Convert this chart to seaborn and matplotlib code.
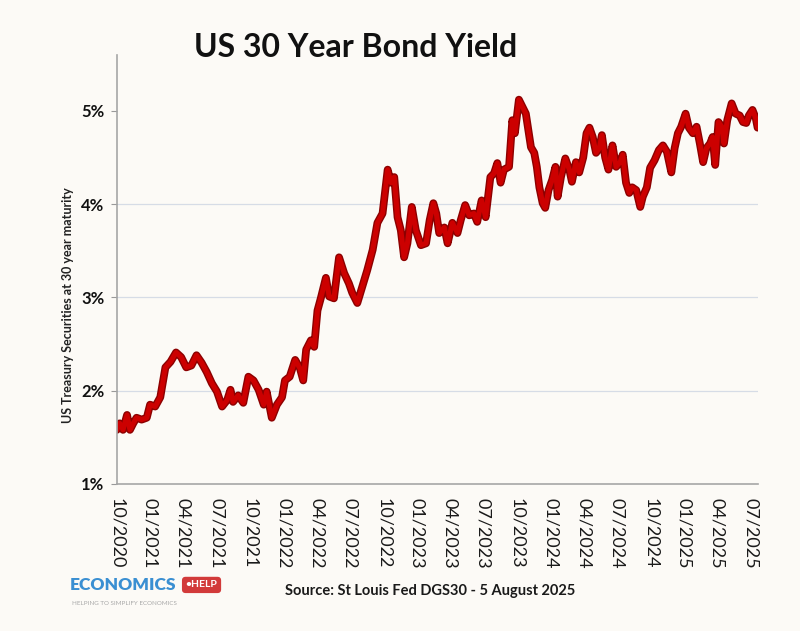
import pandas as pd
import matplotlib.pyplot as plt
import seaborn as sns

# Rendimento do Treasury de 30 anos
datas = [
    "2020-10-13", "2020-10-21", "2020-10-30", "2020-11-10", "2020-11-18", "2020-11-27",
    "2020-12-06", "2020-12-20", "2021-01-03", "2021-01-12", "2021-01-26", "2021-02-09",
    "2021-02-23", "2021-03-09", "2021-03-24", "2021-04-07", "2021-04-21", "2021-05-05",
    "2021-05-19", "2021-06-02", "2021-06-16", "2021-06-30", "2021-07-14", "2021-07-28",
    "2021-08-11", "2021-08-20", "2021-08-27", "2021-09-10", "2021-09-24", "2021-10-08",
    "2021-10-22", "2021-11-05", "2021-11-19", "2021-11-27", "2021-12-11", "2021-12-25",
    "2022-01-08", "2022-01-16", "2022-01-29", "2022-02-13", "2022-02-26", "2022-03-07",
    "2022-03-15", "2022-03-28", "2022-04-06", "2022-04-15", "2022-04-24", "2022-05-08",
    "2022-05-17", "2022-05-30", "2022-06-13", "2022-06-27", "2022-07-10", "2022-07-19",
    "2022-08-02", "2022-08-15", "2022-08-29", "2022-09-13", "2022-09-26", "2022-10-10",
    "2022-10-24", "2022-11-02", "2022-11-11", "2022-11-20", "2022-11-29", "2022-12-08",
    "2022-12-17", "2022-12-29", "2023-01-09", "2023-01-23", "2023-02-06", "2023-02-16",
    "2023-02-26", "2023-03-06", "2023-03-14", "2023-03-28", "2023-04-06", "2023-04-19",
    "2023-05-03", "2023-05-12", "2023-05-24", "2023-06-04", "2023-06-17", "2023-06-26",
    "2023-07-08", "2023-07-19", "2023-08-01", "2023-08-11", "2023-08-20", "2023-08-29",
    "2023-09-07", "2023-09-21", "2023-09-30", "2023-10-07", "2023-10-18", "2023-10-28",
    "2023-11-06", "2023-11-14", "2023-11-20", "2023-11-29", "2023-12-06", "2023-12-13",
    "2023-12-22", "2023-12-29", "2024-01-07", "2024-01-17", "2024-01-26", "2024-02-01",
    "2024-02-10", "2024-02-22", "2024-03-04", "2024-03-11", "2024-03-22", "2024-03-31",
    "2024-04-11", "2024-04-20", "2024-04-28", "2024-05-07", "2024-05-16", "2024-05-25",
    "2024-06-01", "2024-06-10", "2024-06-19", "2024-06-30", "2024-07-10", "2024-07-21",
    "2024-07-28", "2024-08-06", "2024-08-15", "2024-08-23", "2024-09-03", "2024-09-14",
    "2024-09-21", "2024-10-02", "2024-10-11", "2024-10-23", "2024-11-04", "2024-11-15",
    "2024-11-26", "2024-12-08", "2024-12-17", "2024-12-26", "2025-01-04", "2025-01-16",
    "2025-01-25", "2025-02-05", "2025-02-15", "2025-02-24", "2025-03-05", "2025-03-14",
    "2025-03-24", "2025-03-31", "2025-04-07", "2025-04-16", "2025-04-25", "2025-05-01",
    "2025-05-10", "2025-05-22", "2025-06-02", "2025-06-13", "2025-06-22", "2025-07-01",
    "2025-07-08", "2025-07-18", "2025-07-27", "2025-08-01",
]
rendimentos = [
    1.58, 1.65, 1.58, 1.74, 1.58, 1.65,
    1.71, 1.69, 1.71, 1.85, 1.83, 1.93,
    2.25, 2.31, 2.41, 2.36, 2.25, 2.27,
    2.38, 2.30, 2.20, 2.08, 1.99, 1.83,
    1.90, 2.01, 1.88, 1.95, 1.87, 2.15,
    2.11, 2.01, 1.85, 1.99, 1.71, 1.85,
    1.93, 2.11, 2.15, 2.33, 2.24, 2.11,
    2.44, 2.54, 2.47, 2.86, 2.99, 3.21,
    3.01, 2.99, 3.43, 3.26, 3.15, 3.05,
    2.94, 3.11, 3.29, 3.51, 3.80, 3.90,
    4.37, 4.23, 4.29, 3.86, 3.72, 3.43,
    3.58, 3.97, 3.72, 3.56, 3.58, 3.83,
    4.01, 3.90, 3.69, 3.75, 3.58, 3.80,
    3.69, 3.83, 3.99, 3.88, 3.90, 3.81,
    4.04, 3.86, 4.29, 4.33, 4.44, 4.23,
    4.37, 4.40, 4.90, 4.76, 5.12, 5.04,
    4.97, 4.76, 4.61, 4.55, 4.40, 4.18,
    4.01, 3.96, 4.15, 4.26, 4.40, 4.08,
    4.29, 4.49, 4.37, 4.24, 4.45, 4.34,
    4.50, 4.76, 4.82, 4.72, 4.55, 4.60,
    4.74, 4.50, 4.37, 4.63, 4.40, 4.45,
    4.53, 4.23, 4.12, 4.18, 4.15, 3.97,
    4.08, 4.18, 4.39, 4.47, 4.58, 4.63,
    4.56, 4.34, 4.60, 4.76, 4.83, 4.97,
    4.82, 4.76, 4.83, 4.65, 4.45, 4.60,
    4.65, 4.72, 4.42, 4.88, 4.83, 4.65,
    4.90, 5.08, 4.97, 4.95, 4.88, 4.87,
    4.95, 5.01, 4.92, 4.82,
]

rotulos_x = [
    "10/2020", "01/2021", "04/2021", "07/2021", "10/2021", "01/2022", "04/2022",
    "07/2022", "10/2022", "01/2023", "04/2023", "07/2023", "10/2023", "01/2024",
    "04/2024", "07/2024", "10/2024", "01/2025", "04/2025", "07/2025",
]
niveis_y = [1, 2, 3, 4, 5]
linhas_grade = [2, 3, 4]

df = pd.DataFrame({"data": pd.to_datetime(datas), "rendimento": rendimentos})

fundo = "#fcfaf6"

sns.set_style("white")
plt.rcParams["font.family"] = ["Lato", "DejaVu Sans"]

fig = plt.figure(figsize=(8, 6.31), dpi=100, facecolor=fundo)
ax = fig.add_axes([0.146, 0.233, 0.801, 0.680])
ax.set_facecolor(fundo)

for g in linhas_grade:
    ax.axhline(g, color="#d6dce6", lw=0.9, zorder=0)

# linha escura por baixo e vermelha por cima, para o efeito de contorno
sns.lineplot(data=df, x="data", y="rendimento", color="#8c0000", lw=5.6, ax=ax)
sns.lineplot(data=df, x="data", y="rendimento", color="#cc0000", lw=3.6, ax=ax)

ax.set_xlim(df["data"].min(), df["data"].max())
ax.set_ylim(1, 5.6)

posicoes_x = pd.to_datetime(["13/" + r for r in rotulos_x], format="%d/%m/%Y")
ax.set_xticks(posicoes_x)
ax.set_xticklabels(rotulos_x, rotation=270, fontsize=13, color="#1a1a1a",
                   ha="center", va="top")
ax.set_yticks(niveis_y)
ax.set_yticklabels([f"{v}%" for v in niveis_y], fontsize=12, fontweight="bold",
                   color="#111111")
ax.tick_params(axis="x", length=0, pad=10)
ax.tick_params(axis="y", length=4, width=0.8, color="#999999", pad=5, left=True)

ax.set_xlabel("")
ax.set_ylabel("")
for lado in ["top", "right"]:
    ax.spines[lado].set_visible(False)
for lado in ["left", "bottom"]:
    ax.spines[lado].set_color("#a6a6a6")
    ax.spines[lado].set_linewidth(1.2)

fig.text(0.444, 0.925, "US 30 Year Bond Yield", ha="center", va="center",
         fontsize=23, fontweight="bold", color="#111111")
fig.text(0.085, 0.517, "US Treasury Securities at 30 year maturity", rotation=90,
         ha="center", va="center", fontsize=9, fontweight="bold", color="#222222")
fig.text(0.5375, 0.063, "Source: St Louis Fed DGS30 - 5 August 2025", ha="center",
         va="center", fontsize=10.5, fontweight="bold", color="#1a1a1a")

# logotipo
fig.text(0.087, 0.073, "ECONOMICS", ha="left", va="center", fontsize=12.5,
         fontweight="heavy", color="#3a8fd2")
fig.text(0.232, 0.073, "\u2022HELP", ha="left", va="center", fontsize=7.5,
         fontweight="bold", color="white",
         bbox=dict(boxstyle="round,pad=0.35", fc="#d23a3a", ec="none"))
fig.text(0.09, 0.043, "HELPING TO SIMPLIFY ECONOMICS", ha="left", va="center",
         fontsize=4.5, color="#a8a8a8")

fig.savefig("out.png", dpi=100, facecolor=fundo)
